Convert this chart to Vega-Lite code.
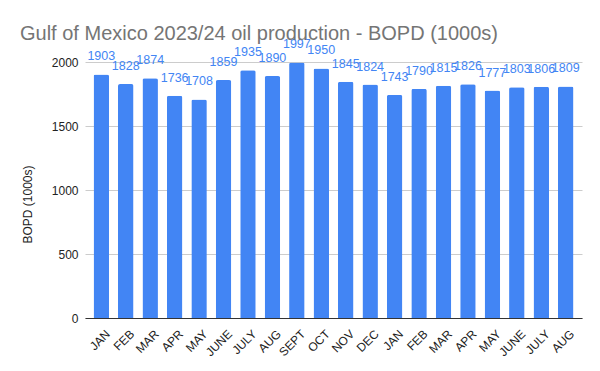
{
  "$schema": "https://vega.github.io/schema/vega-lite/v6.json",
  "width": 497,
  "height": 256,
  "autosize": {"type": "none"},
  "padding": {"left": 85, "top": 62, "right": 18, "bottom": 53},
  "background": "white",
  "title": {
    "text": "Gulf of Mexico 2023/24 oil production - BOPD (1000s)",
    "anchor": "start",
    "frame": "group",
    "dx": -65,
    "offset": -6,
    "font": "Liberation Sans",
    "fontSize": 20,
    "fontWeight": "normal",
    "color": "#757575"
  },
  "data": {
    "values": [
      {"period": "JAN 2023", "bopd": 1903},
      {"period": "FEB 2023", "bopd": 1828},
      {"period": "MAR 2023", "bopd": 1874},
      {"period": "APR 2023", "bopd": 1736},
      {"period": "MAY 2023", "bopd": 1708},
      {"period": "JUNE 2023", "bopd": 1859},
      {"period": "JULY 2023", "bopd": 1935},
      {"period": "AUG 2023", "bopd": 1890},
      {"period": "SEPT 2023", "bopd": 1997},
      {"period": "OCT 2023", "bopd": 1950},
      {"period": "NOV 2023", "bopd": 1845},
      {"period": "DEC 2023", "bopd": 1824},
      {"period": "JAN 2024", "bopd": 1743},
      {"period": "FEB 2024", "bopd": 1790},
      {"period": "MAR 2024", "bopd": 1815},
      {"period": "APR 2024", "bopd": 1826},
      {"period": "MAY 2024", "bopd": 1777},
      {"period": "JUNE 2024", "bopd": 1803},
      {"period": "JULY 2024", "bopd": 1806},
      {"period": "AUG 2024", "bopd": 1809}
    ]
  },
  "encoding": {
    "x": {
      "field": "period",
      "type": "nominal",
      "sort": null,
      "scale": {"paddingInner": 0.366, "paddingOuter": 0.35},
      "axis": {
        "title": null,
        "labelExpr": "split(datum.label, ' ')[0]",
        "labelAngle": -45,
        "labelFont": "Liberation Sans",
        "labelFontSize": 12,
        "labelColor": "#222222",
        "labelOffset": 3,
        "ticks": false,
        "domainColor": "#333333",
        "labelPadding": 10
      }
    },
    "y": {
      "field": "bopd",
      "type": "quantitative",
      "scale": {"domain": [0, 2000]},
      "axis": {
        "title": "BOPD (1000s)",
        "titleFont": "Liberation Sans",
        "titleFontSize": 12,
        "titleFontWeight": "normal",
        "titleColor": "#222222",
        "titleY": 142,
        "titlePadding": 17,
        "values": [0, 500, 1000, 1500, 2000],
        "format": "d",
        "labelFont": "Liberation Sans",
        "labelFontSize": 12,
        "labelColor": "#222222",
        "labelPadding": 7,
        "ticks": false,
        "domain": false,
        "gridColor": "#cccccc"
      }
    }
  },
  "layer": [
    {
      "mark": {"type": "bar", "color": "#4285F4", "cornerRadiusTopLeft": 2, "cornerRadiusTopRight": 2}
    },
    {
      "mark": {"type": "text", "color": "#4285F4", "font": "Liberation Sans", "fontSize": 12.5, "baseline": "alphabetic", "dy": -14},
      "encoding": {"text": {"field": "bopd", "type": "quantitative"}}
    }
  ],
  "config": {"view": {"stroke": null}}
}
